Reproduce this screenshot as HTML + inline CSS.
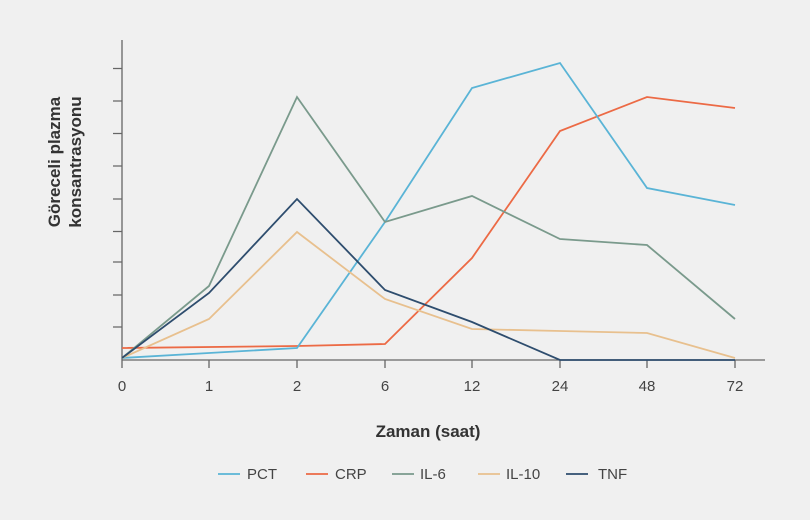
<!DOCTYPE html>
<html><head><meta charset="utf-8"><style>
html,body{margin:0;padding:0;background:#f0f0f0;}
svg{display:block;font-family:"Liberation Sans",sans-serif;}
</style></head><body>
<svg width="810" height="520" viewBox="0 0 810 520">
<rect width="810" height="520" fill="#f0f0f0"/>
<g stroke="#666" stroke-width="1.3" fill="none">
<line x1="122" y1="40" x2="122" y2="360"/>
<line x1="122" y1="360" x2="765" y2="360"/>
<path d="M113 68.5H122M113 101H122M113 133.5H122M113 166H122M113 199H122M113 231.5H122M113 262H122M113 295H122M113 327H122"/>
<path d="M122 360V368M209 360V368M297 360V368M385 360V368M472 360V368M560 360V368M647 360V368M735 360V368"/>
</g>
<g font-size="15" fill="#444" text-anchor="middle">
<text x="122" y="391">0</text><text x="209" y="391">1</text><text x="297" y="391">2</text><text x="385" y="391">6</text><text x="472" y="391">12</text><text x="560" y="391">24</text><text x="647" y="391">48</text><text x="735" y="391">72</text>
</g>
<text x="428" y="437" font-size="17" font-weight="bold" fill="#333" text-anchor="middle">Zaman (saat)</text>
<g font-size="17" font-weight="bold" fill="#333" text-anchor="middle">
<text transform="translate(60,162) rotate(-90)">Göreceli plazma</text>
<text transform="translate(81,162) rotate(-90)">konsantrasyonu</text>
</g>
<g fill="none" stroke-width="1.8" stroke-linejoin="miter">
<polyline stroke="#ec6a45" points="122,348 297,346 385,344 472,258 560,131 647,97 735,108"/>
<polyline stroke="#5ab4d6" points="122,358 209,353 297,348 385,222 472,88 560,63 647,188 735,205"/>
<polyline stroke="#7a9a8c" points="122,358 209,286 297,97 385,222 472,196 560,239 647,245 735,319"/>
<polyline stroke="#e8c08e" points="122,358 209,319 297,232 385,299 472,329 560,331 647,333 735,358"/>
<polyline stroke="#2e4d6e" points="122,358 209,293 297,199 385,290 472,322 560,360 647,360 735,360"/>
</g>
<g stroke-width="1.8">
<line x1="218" y1="474" x2="240" y2="474" stroke="#5ab4d6"/>
<line x1="306" y1="474" x2="328" y2="474" stroke="#ec6a45"/>
<line x1="392" y1="474" x2="414" y2="474" stroke="#7a9a8c"/>
<line x1="478" y1="474" x2="500" y2="474" stroke="#e8c08e"/>
<line x1="566" y1="474" x2="588" y2="474" stroke="#2e4d6e"/>
</g>
<g font-size="15" fill="#444">
<text x="247" y="479">PCT</text><text x="335" y="479">CRP</text><text x="420" y="479">IL-6</text><text x="506" y="479">IL-10</text><text x="598" y="479">TNF</text>
</g>
</svg>
</body></html>
